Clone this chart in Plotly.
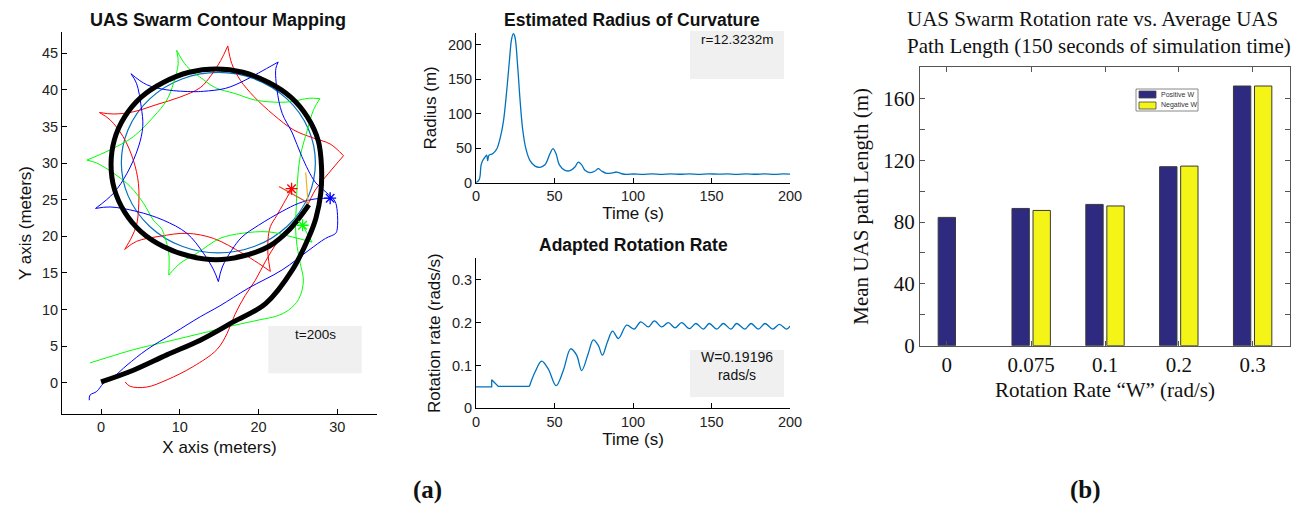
import plotly.graph_objects as go

W, H = 1315, 505
SANS = "Liberation Sans, Arial, sans-serif"
SERIF = "Liberation Serif, Times New Roman, serif"

# ---------------- (a) left: contour mapping data ----------------
black_x = [0, 4.1, 8.35, 12.6, 16.8, 20.9, 24.3, 26.4, 27.3, 27.9, 28.0, 27.6, 26.2, 24.1, 21.3, 18.0, 14.6,
           11.2, 7.9, 5.1, 3.0, 1.7, 1.27, 1.7, 3.0, 5.1, 7.9, 11.2, 14.6, 18.0, 21.3, 24.0, 26.4]
black_y = [0.1, 1.7, 3.8, 5.8, 8.3, 10.8, 15.4, 19.9, 22.5, 25.8, 29.5, 33.0, 36.3, 39.0, 41.0, 42.4, 42.85,
           42.4, 41.0, 39.0, 36.3, 33.2, 29.8, 26.4, 23.3, 20.6, 18.6, 17.3, 16.8, 17.3, 18.6, 21.0, 24.3]

# estimated contour circle
circle_cx, circle_cy, circle_r = 14.9, 30.05, 12.3232

# UAS trajectories, stored arc by arc (arcs meet at the cusps)
red_x = [[3.05, 3.7, 5.8, 8.4, 11.7, 14.7, 16.0, 17.0, 18.3, 19.6, 20.9, 22.5, 24.7, 26.2, 27.2, 28.9, 30.8],
         [30.8, 29.1, 27.0, 24.5, 21.9, 19.4, 17.7, 16.6, 16.1],
         [16.1, 15.2, 14.0, 12.6, 10.0, 7.1, 4.1, 1.6, -0.2],
         [-0.2, 1.15, 2.8, 4.1, 4.75, 4.75, 4.5, 3.9, 3.0],
         [3.0, 4.5, 7.5, 10.9, 14.3, 17.9, 20.0, 21.5],
         [21.5, 21.2, 21.2, 21.5, 22.3, 23.2, 24.2]]
red_y = [[0.1, -0.5, -0.6, 0.4, 2.2, 4.5, 6.7, 9.3, 11.9, 14.0, 16.6, 19.3, 21.6, 24.2, 26.3, 28.6, 31.0],
         [31.0, 32.6, 33.4, 34.5, 36.6, 39.1, 41.3, 43.6, 46.0],
         [46.0, 44.0, 42.0, 40.3, 39.0, 38.0, 37.0, 36.7, 36.9],
         [36.9, 35.9, 33.6, 30.4, 27.2, 23.6, 21.5, 19.9, 18.2],
         [18.2, 19.3, 20.0, 20.4, 19.7, 17.7, 16.3, 15.2],
         [15.2, 17.5, 19.5, 21.3, 22.8, 24.5, 26.4]]

green_x = [[-1.4, 1.0, 4.1, 8.35, 12.6, 16.8, 20.2, 22.3, 23.8, 25.1, 25.7, 25.3, 24.9, 24.7, 24.8, 24.9, 25.3, 26.2, 27.0, 27.8],
           [27.8, 26.4, 24.7, 23.0, 19.6, 17.0, 14.5, 13.0, 10.9, 9.6],
           [9.6, 9.8, 9.2, 8.35, 6.65, 4.1, 1.15, -1.8],
           [-1.8, -0.55, 1.6, 3.7, 5.4, 6.65, 7.7, 8.1, 8.6, 8.6],
           [8.6, 10.05, 12.2, 15.1, 17.9, 21.3, 24.3, 26.8],
           [26.8, 25.6]]
green_y = [[2.7, 3.5, 4.5, 5.6, 6.7, 7.8, 8.6, 9.1, 9.9, 11.4, 13.9, 16.3, 18.6, 21.3, 24.0, 26.8, 30.9, 34.5, 37.3, 38.8],
           [38.8, 38.85, 38.5, 38.3, 38.6, 39.5, 40.3, 41.4, 43.2, 45.4],
           [45.4, 43.6, 40.9, 38.6, 36.3, 33.6, 31.8, 30.4],
           [30.4, 30.0, 28.6, 26.8, 24.5, 22.2, 21.0, 19.9, 17.7, 14.7],
           [14.7, 16.3, 17.7, 19.7, 20.4, 20.6, 19.9, 19.2],
           [19.2, 21.5]]

blue_x = [[-1.5, -1.4, -0.55, 0.3, 1.6, 3.3, 5.8, 9.2, 12.6, 15.1, 18.7, 23.0, 26.4, 28.5, 29.8, 30.0, 30.0, 29.7,
           28.6, 27.2, 25.5, 24.3, 23.0, 22.35, 22.2, 22.5],
          [22.5, 20.0, 17.9, 15.8, 13.0, 11.7, 8.35, 5.8, 3.8],
          [3.8, 4.5, 5.1, 5.3, 4.75, 3.3, 1.6, -0.7],
          [-0.7, 1.15, 4.5, 7.9, 10.9, 13.0, 14.3, 14.9],
          [14.9, 15.4, 16.6, 17.9, 20.0, 23.0, 25.1, 27.2, 29.1]]
blue_y = [[-2.4, -1.7, -1.2, -0.1, 0.8, 2.4, 4.5, 6.75, 9.0, 10.5, 12.9, 15.4, 18.1, 19.7, 20.4, 21.0, 23.4, 24.8,
           26.0, 27.4, 30.9, 34.1, 36.8, 40.0, 42.9, 43.8],
          [43.8, 42.3, 41.1, 40.2, 39.8, 39.75, 40.0, 40.7, 42.2],
          [42.2, 40.9, 37.7, 35.0, 32.2, 28.6, 25.9, 23.8],
          [23.8, 24.0, 23.4, 22.2, 20.4, 17.7, 15.4, 13.8],
          [13.8, 15.8, 18.1, 19.9, 21.5, 23.4, 24.5, 25.1, 25.2]]

# current UAS positions (stars) and heading vectors
star_x = [24.2, 25.6, 29.1]
star_y = [26.5, 21.5, 25.2]
star_colors = ["red", "#00ff00", "blue"]
vec1_x, vec1_y = [26.4, 22.6], [24.5, 26.8]
vec2_x, vec2_y = [26.3, 26.0], [24.5, 28.7]

# ---------------- (a) middle: radius of curvature ----------------
t_r = [0, 2.1, 3.2, 4.2, 5.7, 6.8, 7.4, 8.3, 10.6, 13.2, 15.3, 17.4, 19.5, 21.2, 22.7, 23.8, 24.8, 26.5, 28, 29.7,
       31.8, 34.4, 37.6, 40.8, 43.9, 47.1, 49, 51, 53.1, 56.7, 59.9, 63, 65.2, 67.3, 69.4, 72.6, 75.8, 77.9, 80,
       83.2, 86.4, 89.6, 92.8, 96, 100.2, 106, 112, 118, 124, 130, 136, 142, 148, 154, 160, 166, 172, 178, 184,
       190, 196, 200]
radius = [0, 4.8, 25, 32, 37, 40, 32, 40, 42, 49, 64, 88, 132, 175, 209, 216.4, 211.6, 170, 122, 78,
          49, 32, 24, 22.3, 26, 42, 49.4, 42, 26, 18, 17.4, 22.8, 30, 26, 18, 14.5, 17, 20.3, 17,
          13.6, 14, 15.5, 13, 12.1, 12.6, 12.0, 12.8, 12.2, 12.9, 12.3, 12.8, 12.2, 12.9, 12.4, 12.8, 12.2,
          12.9, 12.3, 12.8, 12.2, 12.8, 12.5]

# ---------------- (a) middle: adapted rotation rate ----------------
t_w = [0, 10, 10, 14.2, 34, 37.6, 41.8, 46, 51, 55.6, 60.3, 64.1, 67.3, 71.5, 74.7, 77.9, 80.5, 83.7, 87,
       90.7, 96, 100.8, 104.9, 109.8, 113.6, 118.3, 122.5, 126.8, 131, 135.9, 140.1, 144.8, 148.6, 153.3,
       157.5, 162.4, 166, 171.3, 175.2, 179.8, 184.1, 189, 193.2, 197.9, 200]
w_rate = [0.05, 0.05, 0.0666, 0.051, 0.051, 0.0846, 0.11, 0.092, 0.053, 0.088, 0.139, 0.124, 0.088, 0.128,
          0.16, 0.147, 0.124, 0.155, 0.18, 0.163, 0.194, 0.185, 0.202, 0.19, 0.204, 0.19, 0.2, 0.188, 0.2,
          0.186, 0.198, 0.185, 0.198, 0.185, 0.198, 0.185, 0.198, 0.185, 0.198, 0.185, 0.198, 0.185, 0.196,
          0.185, 0.192]

# ---------------- (b) bar chart ----------------
rate_labels = ["0", "0.075", "0.1", "0.2", "0.3"]
series_names = ["Positive W", "Negative W"]
series_colors = ["#2E2A80", "#F4F416"]
positive_w = [83.0, 88.8, 91.4, 115.8, 168.0]
negative_w = [None, 87.5, 90.4, 116.2, 168.0]

# ---------------- figure ----------------
def fx(p):
    return p / W


def fy(p):
    return 1 - p / H


fig = go.Figure()

LEFT = dict(xaxis="x", yaxis="y")
for xs_list, ys_list, col in [(red_x, red_y, "red"), (green_x, green_y, "#00ff00"), (blue_x, blue_y, "blue")]:
    for xs, ys in zip(xs_list, ys_list):
        fig.add_trace(go.Scatter(x=xs, y=ys, mode="lines", line=dict(color=col, width=1, shape="spline"),
                                 showlegend=False, hoverinfo="skip", **LEFT))
fig.add_trace(go.Scatter(x=black_x, y=black_y, mode="lines", line=dict(color="black", width=5, shape="spline"),
                         showlegend=False, **LEFT))
fig.add_trace(go.Scatter(x=vec1_x, y=vec1_y, mode="lines", line=dict(color="#D95319", width=1.2),
                         showlegend=False, **LEFT))
fig.add_trace(go.Scatter(x=vec2_x, y=vec2_y, mode="lines", line=dict(color="#EDB120", width=1.2),
                         showlegend=False, **LEFT))
fig.add_trace(go.Scatter(x=star_x, y=star_y, mode="markers",
                         marker=dict(symbol="asterisk-open", size=10, color=star_colors,
                                     line=dict(color=star_colors, width=1.3)),
                         showlegend=False, **LEFT))

fig.add_trace(go.Scatter(x=t_r, y=radius, mode="lines", line=dict(color="#0072BD", width=1.3, shape="spline"),
                         showlegend=False, xaxis="x2", yaxis="y2"))
n_flat = 5
fig.add_trace(go.Scatter(x=t_w[:n_flat], y=w_rate[:n_flat], mode="lines", line=dict(color="#0072BD", width=1.3),
                         showlegend=False, xaxis="x3", yaxis="y3"))
fig.add_trace(go.Scatter(x=t_w[n_flat - 1:], y=w_rate[n_flat - 1:], mode="lines",
                         line=dict(color="#0072BD", width=1.3, shape="spline"),
                         showlegend=False, xaxis="x3", yaxis="y3"))

bar_x = list(range(len(rate_labels)))
for vals, name, col in zip([positive_w, negative_w], series_names, series_colors):
    fig.add_trace(go.Bar(x=bar_x, y=vals, name=name, marker=dict(color=col, line=dict(color="#3a3a3a", width=1)),
                         xaxis="x4", yaxis="y4", showlegend=False))

ax_common = dict(showline=True, linecolor="black", linewidth=1, ticks="inside", ticklen=5, tickcolor="black",
                 showgrid=False, zeroline=False, automargin=False,
                 tickfont=dict(family=SANS, size=14.5, color="#222"))
title_font = dict(family=SANS, size=17, color="#111")
bar_ax = dict(showline=True, mirror="ticks", linecolor="#555", linewidth=1, ticks="inside", ticklen=5,
              tickcolor="#555", showgrid=False, zeroline=False, automargin=False,
              tickfont=dict(family=SERIF, size=21, color="#111"))


def note(text, x, y, size, family=SANS, **kw):
    d = dict(text=text, x=fx(x), y=fy(y), xref="paper", yref="paper", showarrow=False,
             xanchor="center", yanchor="middle", font=dict(family=family, size=size, color="#111"))
    d.update(kw)
    return d


# compact legend for the bar chart (swatches + labels)
leg_x0, leg_y0, leg_row = 1136, 89, 11
legend_shapes = [dict(type="rect", xref="paper", yref="paper", x0=fx(leg_x0), x1=fx(leg_x0 + 62),
                      y0=fy(leg_y0 + 2 * leg_row), y1=fy(leg_y0), fillcolor="white",
                      line=dict(color="#888", width=1))]
legend_notes = []
for i, (name, col) in enumerate(zip(series_names, series_colors)):
    yc = leg_y0 + leg_row * (i + 0.5)
    legend_shapes.append(dict(type="rect", xref="paper", yref="paper", x0=fx(leg_x0 + 3), x1=fx(leg_x0 + 20),
                              y0=fy(yc + 3.5), y1=fy(yc - 3.5), fillcolor=col, line=dict(color="#444", width=0.8)))
    legend_notes.append(note(name, leg_x0 + 23, yc, 7, xanchor="left",
                             font=dict(family=SANS, size=7, color="#333")))

fig.update_layout(
    width=W, height=H, margin=dict(l=0, r=0, t=0, b=0, autoexpand=False),
    paper_bgcolor="white", plot_bgcolor="white", showlegend=False,
    barmode="group", bargap=0.43, bargroupgap=0.175,
    xaxis=dict(ax_common, domain=[fx(62), fx(377)], range=[-4.96, 35.05], tickvals=[0, 10, 20, 30],
               anchor="y", title=dict(text="X axis (meters)", font=title_font, standoff=6)),
    yaxis=dict(ax_common, domain=[fy(414), fy(32)], range=[-4.28, 47.9], tickvals=list(range(0, 50, 5)),
               anchor="x", title=dict(text="Y axis (meters)", font=title_font, standoff=6)),
    xaxis2=dict(ax_common, domain=[fx(476), fx(790)], range=[0, 200], tickvals=[0, 50, 100, 150, 200],
                anchor="y2", title=dict(text="Time (s)", font=title_font, standoff=4)),
    yaxis2=dict(ax_common, domain=[fy(182.7), fy(33)], range=[0, 217.4], tickvals=[0, 50, 100, 150, 200],
                anchor="x2", title=dict(text="Radius (m)", font=title_font, standoff=6)),
    xaxis3=dict(ax_common, domain=[fx(476), fx(790)], range=[0, 200], tickvals=[0, 50, 100, 150, 200],
                anchor="y3", title=dict(text="Time (s)", font=title_font, standoff=4)),
    yaxis3=dict(ax_common, domain=[fy(408.3), fy(258)], range=[0, 0.351], tickvals=[0, 0.1, 0.2, 0.3],
                ticktext=["0", "0.1", "0.2", "0.3"], anchor="x3",
                title=dict(text="Rotation rate (rads/s)", font=title_font, standoff=6)),
    xaxis4=dict(bar_ax, domain=[fx(920), fx(1290)],
                range=[-0.506, 4.506], tickvals=[-0.1425, 1, 2, 3, 4], ticktext=rate_labels, anchor="y4",
                title=dict(text="Rotation Rate \u201cW\u201d (rad/s)", font=dict(family=SERIF, size=21, color="#111"), standoff=6)),
    yaxis4=dict(bar_ax, domain=[fy(345.7), fy(67)],
                range=[0, 180.3], tick0=0, dtick=40, anchor="x4",
                minor=dict(dtick=20, ticks="inside", ticklen=5, tickcolor="#555"),
                title=dict(text="Mean UAS path Length (m)", font=dict(family=SERIF, size=21, color="#111"), standoff=8)),
    shapes=[
        dict(type="circle", xref="x", yref="y", x0=circle_cx - circle_r, x1=circle_cx + circle_r,
             y0=circle_cy - circle_r, y1=circle_cy + circle_r, line=dict(color="#0072BD", width=1.2), layer="below"),
        dict(type="rect", xref="paper", yref="paper", x0=fx(268.3), x1=fx(361.7), y0=fy(373.3), y1=fy(326),
             fillcolor="#F0F0F0", line=dict(width=0), layer="below"),
        dict(type="rect", xref="paper", yref="paper", x0=fx(690), x1=fx(784), y0=fy(79), y1=fy(31),
             fillcolor="#F0F0F0", line=dict(width=0), layer="below"),
        dict(type="rect", xref="paper", yref="paper", x0=fx(690), x1=fx(784), y0=fy(397), y1=fy(350),
             fillcolor="#F0F0F0", line=dict(width=0), layer="below"),
    ] + legend_shapes,
    annotations=[
        note("<b>UAS Swarm Contour Mapping</b>", 218, 20, 18),
        note("<b>Estimated Radius of Curvature</b>", 632, 20, 17.5),
        note("<b>Adapted Rotation Rate</b>", 633, 245, 17.5),
        note("t=200s", 315, 334, 13.5),
        note("r=12.3232m", 737, 40, 13.5),
        note("W=0.19196<br>rads/s", 737, 366, 14),
        note("UAS Swarm Rotation rate vs. Average UAS<br>Path Length (150 seconds of simulation time)",
             905, 32, 21, family=SERIF, xanchor="left", align="left"),
        note("<b>(a)</b>", 428, 490, 25, family=SERIF),
        note("<b>(b)</b>", 1085, 490, 25, family=SERIF),
    ] + legend_notes,
)

fig.write_html("out.html", config={"displayModeBar": False},
               post_script="document.body.style.margin='0px';document.body.style.overflow='hidden';")
